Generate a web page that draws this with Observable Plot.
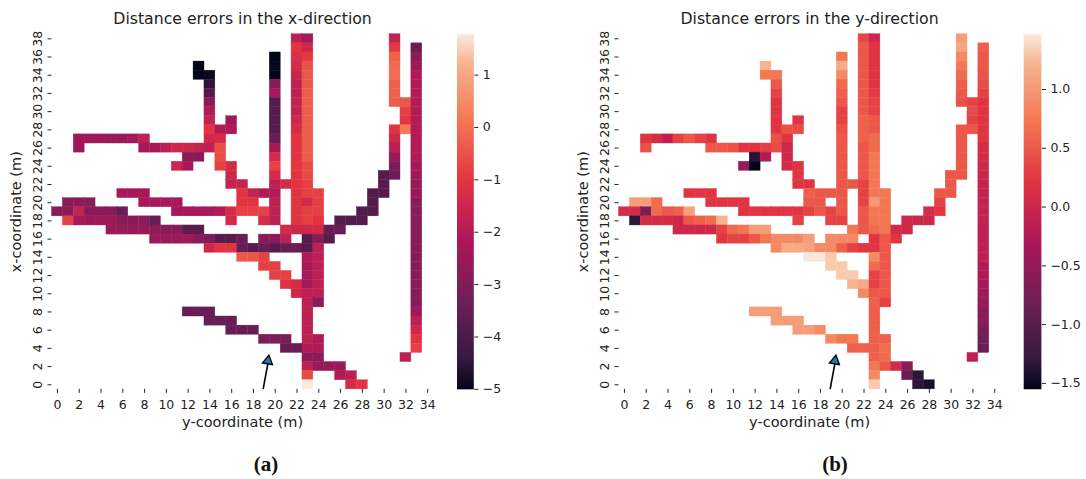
<!DOCTYPE html>
<html><head><meta charset="utf-8">
<script src="https://cdn.jsdelivr.net/npm/d3@7"></script>
<script src="https://cdn.jsdelivr.net/npm/@observablehq/plot@0.6"></script>
<style>
body{margin:0;background:#fff;}
#wrap{position:relative;width:1086px;height:479px;font-family:"DejaVu Sans",sans-serif;color:#222;overflow:hidden;}
#wrap svg{position:absolute;top:0;}
.cap{position:absolute;top:453px;width:100px;text-align:center;font-family:"Liberation Serif","DejaVu Serif",serif;font-weight:bold;font-size:21px;line-height:22px;color:#111;}
</style></head><body><div id="wrap"></div>
<script>
// ---- data ----
const xTicks = [0,2,4,6,8,10,12,14,16,18,20,22,24,26,28,30,32,34];
const yTicks = [0,2,4,6,8,10,12,14,16,18,20,22,24,26,28,30,32,34,36,38];
const titles = ["Distance errors in the x-direction", "Distance errors in the y-direction"];
const xLabel = "y-coordinate (m)";
const yLabel = "x-coordinate (m)";
const captions = ["(a)", "(b)"];
const domainX = [-5, 1.78];
const domainY = [-1.55, 1.47];
const cbTicksX = [-5,-4,-3,-2,-1,0,1];
const cbTicksY = [-1.5,-1,-0.5,0,0.5,1];
// arrow annotation: [x1, y1, x2, y2] in cell units
const arrowPos = [18.89, -0.48, 19.33, 2.62];
// seaborn "rocket" colormap anchor colours
const rocketStops = [0, 0.083, 0.25, 0.417, 0.583, 0.75, 0.917, 1];
const rocketColors = ["#03051a","#35193e","#701f57","#ad1759","#e13342","#f37651","#f6b48f","#faebdd"];

// cells: [column (y-coordinate), row (x-coordinate), error]
const errorsX = [
[22,38,-1.80],[23,38,-2.30],[31,38,-1.69],
[22,37,-1.05],[23,37,-1.48],[31,37,-0.98],[33,37,-3.45],
[20,36,-5.00],[22,36,-1.18],[23,36,-0.94],[31,36,-0.27],[33,36,-2.84],
[13,35,-5.00],[20,35,-4.95],[22,35,-1.35],[23,35,-0.54],[31,35,-0.10],[33,35,-2.43],
[13,34,-5.00],[14,34,-4.90],[20,34,-4.98],[22,34,-1.55],[23,34,-0.44],[31,34,-0.10],[33,34,-2.09],
[14,33,-4.53],[20,33,-2.84],[22,33,-1.82],[23,33,-0.44],[31,33,-0.27],[33,33,-2.09],
[14,32,-3.78],[20,32,-2.30],[22,32,-1.82],[23,32,-0.34],[31,32,-0.27],[33,32,-2.03],
[14,31,-2.84],[20,31,-3.85],[22,31,-1.69],[23,31,-0.34],[31,31,-0.34],[32,31,-0.44],[33,31,-2.03],
[14,30,-2.09],[20,30,-3.85],[22,30,-1.69],[23,30,-0.34],[32,30,-0.81],[33,30,-2.03],
[14,29,-1.69],[16,29,-2.43],[20,29,-3.85],[22,29,-1.48],[23,29,-0.34],[32,29,-1.00],[33,29,-2.03],
[14,28,-1.05],[15,28,-2.09],[16,28,-2.09],[20,28,-3.85],[22,28,-1.35],[23,28,-0.34],[31,28,-1.05],[32,28,0.17],[33,28,-2.03],
[2,27,-2.43],[3,27,-2.43],[4,27,-2.43],[5,27,-2.57],[6,27,-2.57],[7,27,-2.30],[8,27,-1.82],[14,27,-1.48],[15,27,-1.35],[20,27,-3.45],[22,27,-1.05],[23,27,-0.34],[31,27,-1.48],[33,27,-2.03],
[2,26,-2.43],[8,26,-2.30],[9,26,-2.30],[10,26,-1.82],[11,26,-1.48],[12,26,-1.48],[13,26,-1.69],[14,26,-1.82],[15,26,-0.54],[20,26,-2.30],[22,26,-1.05],[23,26,-0.34],[31,26,-1.82],[33,26,-2.03],
[12,25,-2.84],[13,25,-2.84],[15,25,-0.60],[20,25,-1.35],[22,25,-1.05],[23,25,-0.34],[31,25,-2.57],[33,25,-2.09],
[11,24,-1.48],[12,24,-2.30],[15,24,-0.81],[16,24,-1.35],[20,24,-0.81],[22,24,-1.00],[23,24,-0.64],[31,24,-3.11],[33,24,-2.30],
[16,23,-1.48],[20,23,-1.35],[22,23,-1.05],[23,23,-0.64],[30,23,-3.78],[31,23,-3.45],[33,23,-2.43],
[16,22,-1.69],[17,22,-1.69],[20,22,-1.82],[21,22,-1.35],[22,22,-1.05],[23,22,-0.81],[30,22,-3.78],[33,22,-2.57],
[6,21,-2.30],[7,21,-2.30],[8,21,-2.30],[17,21,-1.05],[18,21,-1.69],[19,21,-2.09],[20,21,-2.09],[22,21,-1.05],[23,21,-0.81],[24,21,-0.81],[29,21,-3.85],[30,21,-3.85],[33,21,-2.57],
[1,20,-2.84],[2,20,-2.84],[3,20,-2.84],[8,20,-2.30],[9,20,-2.30],[10,20,-2.30],[11,20,-2.30],[17,20,-1.05],[18,20,-1.05],[20,20,-1.82],[22,20,-1.05],[23,20,-1.35],[24,20,-0.81],[29,20,-3.85],[33,20,-2.84],
[0,19,-2.84],[1,19,-2.84],[2,19,-1.69],[3,19,-2.84],[4,19,-2.84],[5,19,-2.84],[6,19,-3.45],[11,19,-2.30],[12,19,-2.30],[13,19,-2.30],[14,19,-2.30],[15,19,-2.09],[16,19,-1.35],[17,19,-0.81],[18,19,-0.81],[19,19,-0.81],[20,19,-1.82],[22,19,-1.05],[23,19,-0.81],[24,19,-0.81],[28,19,-3.85],[29,19,-3.85],[33,19,-2.84],
[1,18,-0.81],[2,18,-2.30],[3,18,-2.43],[4,18,-2.43],[5,18,-2.43],[6,18,-2.84],[7,18,-2.84],[8,18,-2.84],[9,18,-3.45],[16,18,-1.35],[19,18,-1.35],[20,18,-1.82],[22,18,-1.05],[23,18,-0.81],[24,18,-1.05],[26,18,-3.85],[27,18,-3.85],[28,18,-3.85],[33,18,-2.84],
[5,17,-2.43],[6,17,-2.57],[7,17,-2.57],[8,17,-2.57],[9,17,-2.70],[10,17,-2.84],[11,17,-2.84],[12,17,-3.70],[13,17,-3.70],[21,17,-1.35],[22,17,-1.48],[23,17,-1.48],[24,17,-1.35],[25,17,-3.45],[26,17,-3.45],[33,17,-2.84],
[9,16,-2.57],[10,16,-2.57],[11,16,-2.57],[12,16,-2.43],[13,16,-2.84],[14,16,-3.11],[15,16,-3.78],[16,16,-3.78],[17,16,-3.45],[19,16,-2.84],[20,16,-2.84],[21,16,-1.82],[23,16,-3.78],[24,16,-2.84],[25,16,-3.85],[33,16,-2.90],
[14,15,-1.48],[15,15,-1.05],[16,15,-1.05],[17,15,-3.45],[18,15,-3.78],[19,15,-3.45],[20,15,-3.78],[21,15,-3.45],[22,15,-3.45],[23,15,-3.78],[24,15,-1.82],[33,15,-2.90],
[17,14,-0.44],[18,14,-0.44],[19,14,-0.81],[23,14,-2.09],[24,14,-1.82],[33,14,-2.90],
[19,13,-0.81],[20,13,-0.81],[23,13,-2.30],[24,13,-1.82],[33,13,-2.90],
[20,12,-0.81],[21,12,-0.81],[23,12,-2.30],[24,12,-1.82],[33,12,-2.90],
[21,11,-1.05],[22,11,-1.35],[23,11,-2.30],[24,11,-1.82],[33,11,-2.90],
[22,10,-1.48],[23,10,-1.82],[24,10,-1.82],[33,10,-2.90],
[23,9,-1.82],[24,9,-2.84],[33,9,-2.90],
[12,8,-3.45],[13,8,-3.45],[14,8,-3.45],[23,8,-1.82],[33,8,-2.43],
[14,7,-3.45],[15,7,-3.45],[16,7,-3.45],[23,7,-1.82],[33,7,-1.82],
[16,6,-3.45],[17,6,-3.45],[18,6,-3.45],[23,6,-1.82],[33,6,-1.48],
[19,5,-3.11],[20,5,-3.11],[21,5,-3.11],[23,5,-1.82],[24,5,-2.09],[33,5,-1.05],
[21,4,-3.45],[22,4,-3.45],[23,4,-2.09],[24,4,-2.09],[33,4,-0.81],
[23,3,-2.84],[24,3,-2.84],[32,3,-1.82],
[23,2,-1.82],[24,2,-2.57],[25,2,-2.57],[26,2,-2.57],
[23,1,-0.64],[26,1,-2.09],[27,1,-1.82],
[23,0,1.78],[27,0,-1.35],[28,0,-1.05]
];

const errorsY = [
[22,38,0.36],[23,38,0.02],[31,38,1.03],
[22,37,0.49],[23,37,0.22],[31,37,1.11],[33,37,0.56],
[20,36,0.72],[22,36,0.49],[23,36,0.22],[31,36,0.87],[33,36,0.49],
[13,35,1.22],[20,35,1.15],[22,35,0.49],[23,35,0.22],[31,35,0.72],[33,35,0.49],
[13,34,0.72],[14,34,0.72],[20,34,0.87],[22,34,0.49],[23,34,0.22],[31,34,0.64],[33,34,0.44],
[14,33,0.49],[20,33,0.64],[22,33,0.49],[23,33,0.22],[31,33,0.56],[33,33,0.40],
[14,32,0.32],[20,32,0.56],[22,32,0.49],[23,32,0.26],[31,32,0.49],[33,32,0.32],
[14,31,0.22],[20,31,0.49],[22,31,0.49],[23,31,0.32],[31,31,0.44],[32,31,0.32],[33,31,0.22],
[14,30,0.22],[20,30,0.32],[22,30,0.49],[23,30,0.32],[32,30,0.40],[33,30,0.22],
[14,29,0.22],[16,29,0.22],[20,29,0.32],[22,29,0.56],[23,29,0.49],[32,29,0.32],[33,29,0.22],
[14,28,0.22],[15,28,0.44],[16,28,0.40],[20,28,0.44],[22,28,0.56],[23,28,0.49],[31,28,0.49],[32,28,0.49],[33,28,0.22],
[2,27,0.22],[3,27,0.08],[4,27,-0.13],[5,27,0.32],[6,27,0.49],[7,27,0.32],[8,27,0.22],[14,27,0.44],[15,27,0.22],[20,27,0.49],[22,27,0.56],[23,27,0.64],[31,27,0.49],[33,27,0.22],
[2,26,0.44],[8,26,0.49],[9,26,0.49],[10,26,0.44],[11,26,0.22],[12,26,0.22],[13,26,0.30],[14,26,0.40],[15,26,0.02],[20,26,0.49],[22,26,0.49],[23,26,0.64],[31,26,0.49],[33,26,0.08],
[12,25,-1.36],[13,25,-0.25],[15,25,0.02],[20,25,0.49],[22,25,0.49],[23,25,0.72],[31,25,0.49],[33,25,0.08],
[11,24,-0.46],[12,24,-1.55],[15,24,0.08],[16,24,0.22],[20,24,0.49],[22,24,0.49],[23,24,0.72],[31,24,0.49],[33,24,0.02],
[16,23,0.22],[20,23,0.49],[22,23,0.49],[23,23,0.72],[30,23,0.49],[31,23,0.49],[33,23,-0.01],
[16,22,0.22],[17,22,0.22],[20,22,0.49],[21,22,0.49],[22,22,0.32],[23,22,0.72],[30,22,0.49],[33,22,-0.07],
[6,21,0.22],[7,21,0.22],[8,21,0.22],[17,21,0.56],[18,21,0.49],[19,21,0.49],[20,21,0.49],[22,21,0.32],[23,21,0.72],[24,21,0.72],[29,21,0.49],[30,21,0.49],[33,21,-0.07],
[1,20,1.03],[2,20,1.03],[3,20,0.64],[8,20,0.22],[9,20,0.22],[10,20,0.22],[11,20,0.22],[17,20,0.49],[18,20,0.49],[20,20,0.49],[22,20,0.32],[23,20,0.99],[24,20,0.72],[29,20,0.32],[33,20,-0.07],
[0,19,0.08],[1,19,0.08],[2,19,-0.70],[3,19,0.64],[4,19,0.49],[5,19,0.56],[6,19,1.08],[11,19,0.22],[12,19,0.22],[13,19,0.22],[14,19,0.22],[15,19,0.22],[16,19,0.22],[17,19,0.32],[18,19,0.49],[19,19,0.32],[20,19,0.49],[22,19,0.49],[23,19,0.72],[24,19,0.72],[28,19,0.08],[29,19,0.22],[33,19,-0.07],
[1,18,-1.34],[2,18,0.08],[3,18,0.08],[4,18,0.08],[5,18,0.02],[6,18,0.49],[7,18,0.56],[8,18,0.64],[9,18,1.22],[16,18,0.32],[19,18,0.32],[20,18,0.32],[22,18,0.49],[23,18,0.72],[24,18,0.72],[26,18,0.02],[27,18,0.02],[28,18,0.02],[33,18,-0.07],
[5,17,0.02],[6,17,0.02],[7,17,0.02],[8,17,0.02],[9,17,0.32],[10,17,0.64],[11,17,0.72],[12,17,1.03],[13,17,1.03],[21,17,0.72],[22,17,0.49],[23,17,0.64],[24,17,0.72],[25,17,0.08],[26,17,0.02],[33,17,-0.13],
[9,16,0.22],[10,16,0.32],[11,16,0.32],[12,16,0.49],[13,16,0.72],[14,16,0.87],[15,16,0.87],[16,16,0.87],[17,16,1.03],[19,16,0.87],[20,16,0.87],[21,16,0.87],[23,16,0.22],[24,16,0.49],[25,16,0.22],[33,16,-0.13],
[14,15,0.87],[15,15,1.15],[16,15,1.15],[17,15,1.08],[18,15,0.87],[19,15,0.87],[20,15,0.56],[21,15,0.32],[22,15,0.22],[23,15,0.22],[24,15,0.49],[33,15,-0.13],
[17,14,1.45],[18,14,1.45],[19,14,1.32],[23,14,0.87],[24,14,0.49],[33,14,-0.13],
[19,13,1.32],[20,13,1.32],[23,13,0.64],[24,13,0.49],[33,13,-0.22],
[20,12,1.32],[21,12,1.32],[23,12,0.32],[24,12,0.49],[33,12,-0.25],
[21,11,1.22],[22,11,1.15],[23,11,0.32],[24,11,0.49],[33,11,-0.34],
[22,10,0.87],[23,10,0.49],[24,10,0.49],[33,10,-0.40],
[23,9,0.56],[24,9,0.32],[33,9,-0.46],
[12,8,1.03],[13,8,1.03],[14,8,1.03],[23,8,0.56],[33,8,-0.58],
[14,7,1.03],[15,7,1.03],[16,7,1.03],[23,7,0.56],[33,7,-0.58],
[16,6,1.03],[17,6,1.03],[18,6,0.87],[23,6,0.56],[33,6,-0.70],
[19,5,0.87],[20,5,0.72],[21,5,0.72],[23,5,0.56],[24,5,0.56],[33,5,-0.80],
[21,4,0.56],[22,4,0.56],[23,4,0.56],[24,4,0.64],[33,4,-0.86],
[23,3,0.56],[24,3,0.64],[32,3,-0.13],
[23,2,0.72],[24,2,0.49],[25,2,0.08],[26,2,-0.58],
[23,1,0.87],[26,1,-0.86],[27,1,-1.34],
[23,0,1.32],[27,0,-1.34],[28,0,-1.43]
];

// ---- rendering ----
const rocketScale = d3.scaleLinear().domain(rocketStops).range(rocketColors).interpolate(d3.interpolateRgb).clamp(true);
const rocket = t => rocketScale(t);
const TOP = 33.75, BOTTOM = 51.15, H = 440;
const FONT = "DejaVu Sans";
const TICK_FS = 12.5, LABEL_FS = 14.5;
const wrap = document.getElementById("wrap");

function heatmap(cells, domain, title) {
  return Plot.plot({
    width: 445, height: H,
    marginLeft: 51.5, marginRight: 12.35, marginTop: TOP, marginBottom: BOTTOM,
    x: {domain: [-0.5, 34.5], axis: null},
    y: {domain: [-0.5, 38.5], axis: null},
    color: {type: "linear", domain, interpolate: rocket},
    style: {fontFamily: FONT, color: "#222", background: "transparent", overflow: "visible"},
    marks: [
      Plot.rect(cells, {x1: d => d[0] - 0.5, x2: d => d[0] + 0.5, y1: d => d[1] - 0.5, y2: d => d[1] + 0.5,
        fill: d => d[2], stroke: d => d[2], strokeWidth: 0.4}),
      Plot.axisX({ticks: xTicks, tickSize: 4, tickPadding: 7, fontSize: TICK_FS, tickFormat: d3.format("d"), label: null}),
      Plot.axisY({ticks: yTicks, tickSize: 4, tickFormat: () => "", label: null}),
      Plot.text(yTicks, {x: -0.5, y: d => d, text: d => String(d), rotate: -90, dx: -14, fontSize: TICK_FS, fill: "#222",
        textAnchor: "middle", lineAnchor: "middle"}),
      Plot.text([yLabel], {frameAnchor: "left", dx: -36, rotate: -90, fontSize: LABEL_FS, fill: "#222",
        textAnchor: "middle", lineAnchor: "middle"}),
      Plot.text([xLabel], {frameAnchor: "bottom", dy: 33, fontSize: LABEL_FS, fill: "#222",
        textAnchor: "middle", lineAnchor: "middle"}),
      Plot.text([title], {frameAnchor: "top", dy: -15.5, fontSize: 15.7, fill: "#222",
        textAnchor: "middle", lineAnchor: "middle"}),
      Plot.link([arrowPos], {x1: d => d[0], y1: d => d[1], x2: d => d[2], y2: d => d[3] - 0.25, stroke: "black", strokeWidth: 1.6}),
      Plot.dot([arrowPos], {x: d => d[2], y: d => d[3], symbol: "triangle", r: 3.8, fill: "#1f77b4", stroke: "black", strokeWidth: 1.3, rotate: 10})
    ]
  });
}

function colorbar(domain, ticks, fmt, width, mLeft, mRight) {
  let gradient;
  if (typeof Plot.raster === "function") {
    gradient = Plot.raster({x1: 0, x2: 1, y1: domain[0], y2: domain[1], width: 1, height: 400,
      fill: (x, y) => y, imageRendering: "auto"});
  } else {
    const n = 356, dv = (domain[1] - domain[0]) / n;
    const steps = d3.range(n).map(i => domain[0] + i * dv);
    gradient = Plot.rect(steps, {x1: 0, x2: 1, y1: d => d, y2: d => d + dv * 1.3, fill: d => d + dv / 2});
  }
  return Plot.plot({
    width, height: H,
    marginLeft: mLeft, marginRight: mRight, marginTop: TOP, marginBottom: BOTTOM,
    x: {domain: [0, 1], axis: null},
    y: {domain, axis: null},
    color: {type: "linear", domain, interpolate: rocket},
    style: {fontFamily: FONT, color: "#222", background: "transparent", overflow: "visible"},
    marks: [
      gradient,
      Plot.axisY({anchor: "right", ticks, tickFormat: fmt, tickSize: 4, tickPadding: 5, fontSize: TICK_FS, label: null})
    ]
  });
}

function place(svg, left) { svg.style.left = left + "px"; wrap.appendChild(svg); }

place(heatmap(errorsX, domainX, titles[0]), 0);
place(colorbar(domainX, cbTicksX, d3.format("d"), 98, 11.5, 69.7), 445);
place(heatmap(errorsY, domainY, titles[1]), 566.8);
place(colorbar(domainY, cbTicksY, d3.format(".1f"), 74.2, 11.2, 45.3), 1011.8);

captions.forEach((c, i) => {
  const div = document.createElement("div");
  div.className = "cap";
  div.textContent = c;
  div.style.left = ([266, 835][i] - 50) + "px";
  wrap.appendChild(div);
});
</script></body></html>
